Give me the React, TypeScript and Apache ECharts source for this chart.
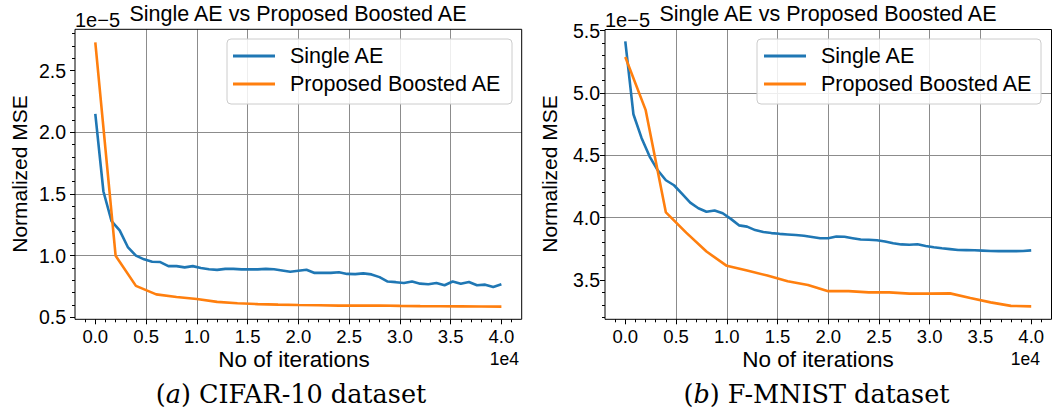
import React, { useEffect, useRef } from 'react';
import * as echarts from 'echarts';

// ---- data (values are in units of 1e-5) ----
const ITER_FINE = [
  0, 800, 1600, 2400, 3200, 4000, 4800, 5600, 6400, 7200,
  8000, 8800, 9600, 10400, 11200, 12000, 12800, 13600, 14400, 15200,
  16000, 16800, 17600, 18400, 19200, 20000, 20800, 21600, 22400, 23200,
  24000, 24800, 25600, 26400, 27200, 28000, 28800, 29600, 30400, 31200,
  32000, 32800, 33600, 34400, 35200, 36000, 36800, 37600, 38400, 39200,
  40000,
];
const ITER_COARSE = [
  0, 2000, 4000, 6000, 8000, 10000, 12000, 14000, 16000, 18000,
  20000, 22000, 24000, 26000, 28000, 30000, 32000, 34000, 36000, 38000,
  40000,
];

const CIFAR_SINGLE = [
  2.15, 1.52, 1.28, 1.205, 1.07, 1.0, 0.97, 0.95, 0.948, 0.915,
  0.915, 0.905, 0.915, 0.9, 0.89, 0.885, 0.893, 0.893, 0.889, 0.889,
  0.889, 0.893, 0.89, 0.88, 0.87, 0.878, 0.886, 0.86, 0.86, 0.86,
  0.865, 0.852, 0.85, 0.856, 0.848, 0.826, 0.79, 0.785, 0.778, 0.79,
  0.773, 0.768, 0.778, 0.76, 0.79, 0.772, 0.786, 0.76, 0.765, 0.746,
  0.768,
];
const CIFAR_BOOSTED = [
  2.73, 1.0, 0.755, 0.686, 0.665, 0.648, 0.625, 0.614, 0.607, 0.603,
  0.6, 0.598, 0.595, 0.595, 0.596, 0.593, 0.591, 0.59, 0.589, 0.588,
  0.587,
];
const FMNIST_SINGLE = [
  5.415, 4.83, 4.64, 4.49, 4.38, 4.30, 4.26, 4.19, 4.12, 4.075,
  4.047, 4.058, 4.035, 3.99, 3.938, 3.928, 3.90, 3.885, 3.876, 3.87,
  3.865, 3.86, 3.855, 3.845, 3.835, 3.835, 3.848, 3.846, 3.835, 3.824,
  3.822, 3.818, 3.808, 3.795, 3.785, 3.782, 3.787, 3.773, 3.762, 3.754,
  3.747, 3.74, 3.739, 3.738, 3.735, 3.732, 3.731, 3.731, 3.731, 3.732,
  3.737,
];
const FMNIST_BOOSTED = [
  5.29, 4.865, 4.042, 3.88, 3.728, 3.613, 3.575, 3.535, 3.49, 3.46,
  3.41, 3.41, 3.40, 3.40, 3.39, 3.39, 3.392, 3.355, 3.32, 3.292,
  3.288,
];

// ---- tick positions ----
const X_MAJOR = [0, 5000, 10000, 15000, 20000, 25000, 30000, 35000, 40000];
const X_MINOR = [
  -1000, 1000, 2000, 3000, 4000, 6000, 7000, 8000, 9000,
  11000, 12000, 13000, 14000, 16000, 17000, 18000, 19000,
  21000, 22000, 23000, 24000, 26000, 27000, 28000, 29000,
  31000, 32000, 33000, 34000, 36000, 37000, 38000, 39000, 41000,
];
const Y_MAJOR_A = [0.5, 1.0, 1.5, 2.0, 2.5];
const Y_MINOR_A = [
  0.6, 0.7, 0.8, 0.9, 1.1, 1.2, 1.3, 1.4, 1.6, 1.7, 1.8, 1.9,
  2.1, 2.2, 2.3, 2.4, 2.6, 2.7, 2.8,
];
const Y_MAJOR_B = [3.5, 4.0, 4.5, 5.0, 5.5];
const Y_MINOR_B = [
  3.2, 3.3, 3.4, 3.6, 3.7, 3.8, 3.9, 4.1, 4.2, 4.3, 4.4,
  4.6, 4.7, 4.8, 4.9, 5.1, 5.2, 5.3, 5.4,
];

const SERIES_NAMES = ['Single AE', 'Proposed Boosted AE'];
const TITLE = 'Single AE vs Proposed Boosted AE';
const X_NAME = 'No of iterations';
const Y_NAME = 'Normalized MSE';
const Y_OFFSET = '1e\u22125';
const X_OFFSET = '1e4';

const BLUE = '#1f77b4';
const ORANGE = '#ff7f0e';
const SANS = '"Liberation Sans", Arial, Helvetica, sans-serif';
const SERIF = '"DejaVu Serif", serif';

const zip = (xs: number[], ys: number[]) => ys.map((y, i) => [xs[i], y]);

const GRIDS = [
  { left: 75, top: 29.3, width: 446.7, height: 290, ymin: 0.484, ymax: 2.835, ylabMargin: 9 },
  { left: 605, top: 29.5, width: 446.5, height: 289.8, ymin: 3.184, ymax: 5.51, ylabMargin: 5 },
];

export default function App() {
  const ref = useRef<HTMLDivElement>(null);

  useEffect(() => {
    if (!ref.current) return;
    const chart = echarts.init(ref.current, undefined, { renderer: 'svg' });

    const xAxes: any[] = [];
    const yAxes: any[] = [];
    GRIDS.forEach((g, gi) => {
      xAxes.push({
        gridIndex: gi, type: 'value', min: -2000, max: 42000, splitNumber: 9,
        position: 'bottom',
        axisLine: { show: false, onZero: false },
        axisTick: { show: true, customValues: X_MAJOR, length: 5, lineStyle: { color: '#000', width: 1 } },
        axisLabel: {
          customValues: X_MAJOR, margin: 8, color: '#000', fontSize: 18.5, fontFamily: SANS,
          formatter: (v: number) => (Math.abs(v % 5000) < 1e-6 ? (v / 10000).toFixed(1) : ''),
        },
        splitLine: { show: true, showMinLine: false, showMaxLine: false, lineStyle: { color: '#8c8c8c', width: 1 } },
      });
      xAxes.push({
        gridIndex: gi, type: 'value', min: -2000, max: 42000, position: 'bottom', offset: 0,
        axisLine: { show: false, onZero: false },
        axisTick: { show: true, customValues: X_MINOR, length: 3, lineStyle: { color: '#000', width: 1 } },
        axisLabel: { show: false },
        splitLine: { show: false },
      });
      const major = gi === 0 ? Y_MAJOR_A : Y_MAJOR_B;
      const minor = gi === 0 ? Y_MINOR_A : Y_MINOR_B;
      yAxes.push({
        gridIndex: gi, type: 'value', min: g.ymin, max: g.ymax, splitNumber: 5,
        position: 'left',
        axisLine: { show: false, onZero: false },
        axisTick: { show: true, customValues: major, length: 5, lineStyle: { color: '#000', width: 1 } },
        axisLabel: {
          customValues: major, margin: g.ylabMargin, color: '#000', fontSize: 19.5, fontFamily: SANS,
          formatter: (v: number) => (Math.abs(v * 2 - Math.round(v * 2)) < 1e-6 ? v.toFixed(1) : ''),
        },
        splitLine: { show: true, showMinLine: false, showMaxLine: false, lineStyle: { color: '#8c8c8c', width: 1 } },
      });
      yAxes.push({
        gridIndex: gi, type: 'value', min: g.ymin, max: g.ymax, position: 'left', offset: 0,
        axisLine: { show: false, onZero: false },
        axisTick: { show: true, customValues: minor, length: 3, lineStyle: { color: '#000', width: 1 } },
        axisLabel: { show: false },
        splitLine: { show: false },
      });
    });

    const lineSeries = (name: string, data: number[][], color: string, xi: number, yi: number) => ({
      type: 'line', name, data, xAxisIndex: xi, yAxisIndex: yi,
      showSymbol: false, symbol: 'none', smooth: false,
      lineStyle: { color, width: 2.6 }, itemStyle: { color },
      z: 2,
    });

    const series = [
      lineSeries(SERIES_NAMES[0], zip(ITER_FINE, CIFAR_SINGLE), BLUE, 0, 0),
      lineSeries(SERIES_NAMES[1], zip(ITER_COARSE, CIFAR_BOOSTED), ORANGE, 0, 0),
      lineSeries(SERIES_NAMES[0], zip(ITER_FINE, FMNIST_SINGLE), BLUE, 2, 2),
      lineSeries(SERIES_NAMES[1], zip(ITER_COARSE, FMNIST_BOOSTED), ORANGE, 2, 2),
    ];

    const legend = (left: number) => ({
      left, top: 45, orient: 'vertical', padding: 0,
      itemWidth: 42, itemHeight: 3, itemGap: 6, icon: 'rect',
      selectedMode: false, z: 20,
      textStyle: { fontSize: 21.5, fontFamily: SANS, color: '#000', lineHeight: 22, padding: [0, 0, 0, 10] },
      data: SERIES_NAMES,
    });

    const txt = (text: string, x: number, y: number, size: number, extra: any = {}) => ({
      type: 'text', x, y, z: 30,
      style: {
        text, fontSize: size, fontFamily: SANS, fill: '#000',
        textAlign: 'center', textVerticalAlign: 'middle', ...(extra.style || {}),
      },
      ...(extra.el || {}),
    });

    const graphic: any[] = [
      { type: 'rect', z: 10, shape: { x: 227, y: 39, width: 285, height: 65, r: 4 }, style: { fill: 'rgba(255,255,255,0.85)', stroke: '#cccccc', lineWidth: 1 } },
      { type: 'rect', z: 10, shape: { x: 757, y: 39, width: 284, height: 65, r: 4 }, style: { fill: 'rgba(255,255,255,0.85)', stroke: '#cccccc', lineWidth: 1 } },
      txt(TITLE, 298, 14, 21.5),
      txt(TITLE, 828, 14, 21.5),
      txt(Y_OFFSET, 75, 19.5, 20, { style: { textAlign: 'left' } }),
      txt(Y_OFFSET, 605, 19.5, 20, { style: { textAlign: 'left' } }),
      txt(X_OFFSET, 519, 359, 17.5, { style: { textAlign: 'right' } }),
      txt(X_OFFSET, 1040, 359, 17.5, { style: { textAlign: 'right' } }),
      txt(X_NAME, 294, 359, 22.5),
      txt(X_NAME, 818, 359, 22.5),
      txt(Y_NAME, 19.7, 174, 21, { el: { rotation: Math.PI / 2 } }),
      txt(Y_NAME, 549.7, 174, 21, { el: { rotation: Math.PI / 2 } }),
      {
        type: 'text', x: 291, y: 394, z: 30,
        style: {
          text: '({i|a}) CIFAR-10 dataset', fontSize: 25.5, fontFamily: SERIF, fill: '#000',
          textAlign: 'center', textVerticalAlign: 'middle',
          rich: { i: { fontStyle: 'italic', fontSize: 25.5, fontFamily: SERIF, fill: '#000' } },
        },
      },
      {
        type: 'text', x: 816.5, y: 394, z: 30,
        style: {
          text: '({i|b}) F-MNIST dataset', fontSize: 25.5, fontFamily: SERIF, fill: '#000',
          textAlign: 'center', textVerticalAlign: 'middle',
          rich: { i: { fontStyle: 'italic', fontSize: 25.5, fontFamily: SERIF, fill: '#000' } },
        },
      },
    ];

    chart.setOption({
      animation: false,
      backgroundColor: '#ffffff',
      grid: GRIDS.map((g) => ({
        left: g.left, top: g.top, width: g.width, height: g.height,
        show: true, borderColor: '#000', borderWidth: 1, backgroundColor: 'transparent', z: 3,
        containLabel: false,
      })),
      xAxis: xAxes,
      yAxis: yAxes,
      legend: [legend(233), legend(764)],
      series,
      graphic,
    });

    return () => chart.dispose();
  }, []);

  return (
    <div
      ref={ref}
      style={{ position: 'fixed', left: 0, top: 0, width: 1052, height: 408, background: '#fff' }}
    />
  );
}
